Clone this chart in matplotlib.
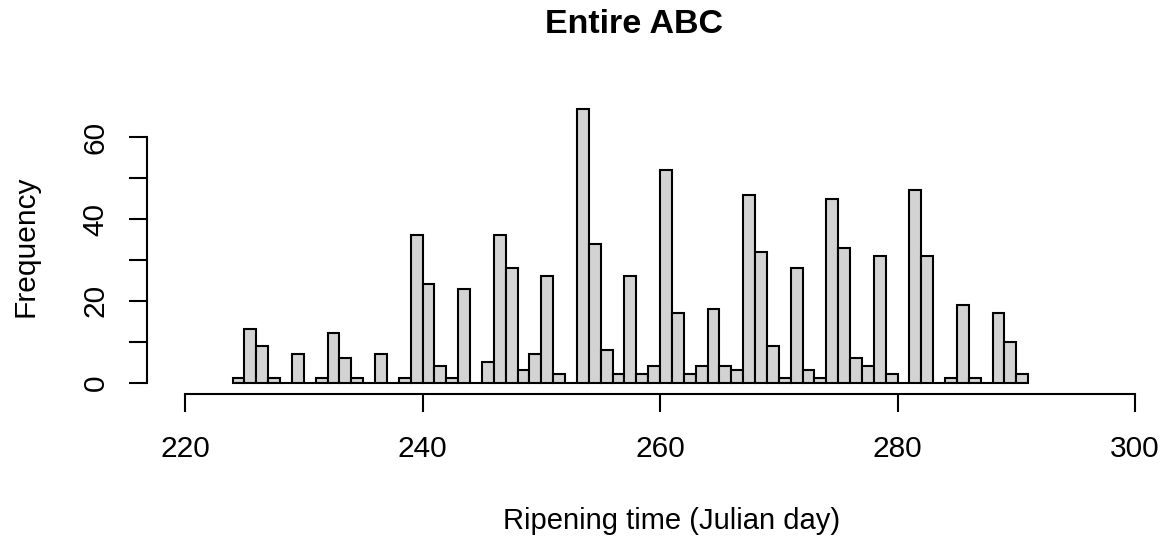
import matplotlib
matplotlib.use('Agg')
import matplotlib.pyplot as plt

plt.rcParams['font.family'] = ['Liberation Sans', 'DejaVu Sans']

# histogram counts, one bin per day (bin = [day, day+1))
days = list(range(224, 291))
counts = [1, 13, 9, 1, 0, 7, 0, 1, 12, 6, 1, 0, 7, 0, 1, 36, 24, 4, 1, 23,
          0, 5, 36, 28, 3, 7, 26, 2, 0, 67, 34, 8, 2, 26, 2, 4, 52, 17, 2, 4,
          18, 4, 3, 46, 32, 9, 1, 28, 3, 1, 45, 33, 6, 4, 31, 2, 0, 47, 31, 0,
          1, 19, 1, 0, 17, 10, 2]

x_ticks = [220, 240, 260, 280, 300]
y_ticks = [0, 10, 20, 30, 40, 50, 60]
y_labels = ['0', '', '20', '', '40', '', '60']

fig = plt.figure(figsize=(11.68, 5.37), dpi=100)
ax = fig.add_axes([147 / 1168, 1 - 393.5 / 537, 1026 / 1168, 295.8 / 537])

ax.bar(days, counts, width=1, align='edge', color='#d3d3d3',
       edgecolor='black', linewidth=1.5)

ax.set_xlim(216.8, 303.2)
ax.set_ylim(-2.68, 69.68)

for s in ['top', 'right']:
    ax.spines[s].set_visible(False)
ax.spines['bottom'].set_bounds(220, 300)
ax.spines['left'].set_bounds(0, 60)
ax.spines['bottom'].set_linewidth(1.5)
ax.spines['left'].set_linewidth(1.5)

ax.set_xticks(x_ticks)
ax.set_xticklabels([str(t) for t in x_ticks])
ax.set_yticks(y_ticks)
ax.set_yticklabels(y_labels, rotation=90, va='center')
ax.tick_params(axis='both', length=13, width=1.5, labelsize=21.5)
ax.tick_params(axis='x', pad=17)
ax.tick_params(axis='y', pad=14)

fig.text(0.543, 0.955, 'Entire ABC', ha='center', va='center',
         fontsize=24.5, fontweight='bold')
fig.text(0.575, 0.030, 'Ripening time (Julian day)', ha='center', va='center',
         fontsize=21)
fig.text(0.022, 0.542, 'Frequency', ha='center', va='center',
         fontsize=21.5, rotation=90)

fig.savefig('out.png', dpi=100)
